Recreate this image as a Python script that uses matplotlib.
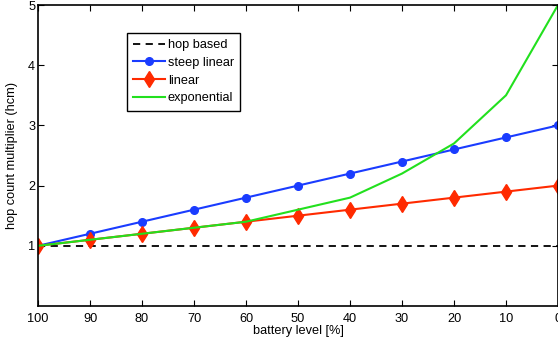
import matplotlib
matplotlib.use("Agg")
import matplotlib.pyplot as plt

# battery level [%] and hop count multipliers
battery = [100, 90, 80, 70, 60, 50, 40, 30, 20, 10, 0]
hop_based = [1, 1, 1, 1, 1, 1, 1, 1, 1, 1, 1]
steep_linear = [1.0, 1.2, 1.4, 1.6, 1.8, 2.0, 2.2, 2.4, 2.6, 2.8, 3.0]
linear = [1.0, 1.1, 1.2, 1.3, 1.4, 1.5, 1.6, 1.7, 1.8, 1.9, 2.0]
exponential = [1.0, 1.1, 1.2, 1.3, 1.4, 1.6, 1.8, 2.2, 2.7, 3.5, 5.0]
yticks = [1, 2, 3, 4, 5]

plt.rcParams["font.family"] = ["Liberation Sans", "DejaVu Sans"]
plt.rcParams["font.size"] = 9.2

fig = plt.figure(figsize=(5.58, 3.43), dpi=100)
ax = fig.add_axes([38 / 558, 1 - 306 / 343, (558 - 38) / 558, 301 / 343])

ax.plot(battery, hop_based, "k--", lw=1.3, dashes=(4, 3), label="hop based")
ax.plot(battery, steep_linear, "-o", color="#1a3cff", lw=1.5, ms=5.5,
        label="steep linear")
ax.plot(battery, linear, "-d", color="#ff2a00", lw=1.5, ms=8,
        label="linear")
ax.plot(battery, exponential, "-", color="#22e01e", lw=1.5,
        label="exponential")

ax.set_xlim(100, 0)
ax.set_ylim(0, 5)
ax.set_xticks(battery)
ax.set_yticks(yticks)
ax.tick_params(direction="in", length=4, width=0.8, top=True, right=True)
ax.tick_params(axis="x", pad=5)
ax.tick_params(axis="y", pad=2)
for s in ax.spines.values():
    s.set_linewidth(1.2)

ax.set_xlabel("battery level [%]", labelpad=0)
ax.set_ylabel("hop count multiplier (hcm)", labelpad=7)

leg = ax.legend(loc="upper left", bbox_to_anchor=(0.171, 0.908),
                fancybox=False, framealpha=1, edgecolor="black",
                handlelength=2.5, handletextpad=0.2, borderpad=0.5,
                labelspacing=0.45, borderaxespad=0)
leg.get_frame().set_linewidth(1.0)

fig.savefig("out.png", dpi=100)
